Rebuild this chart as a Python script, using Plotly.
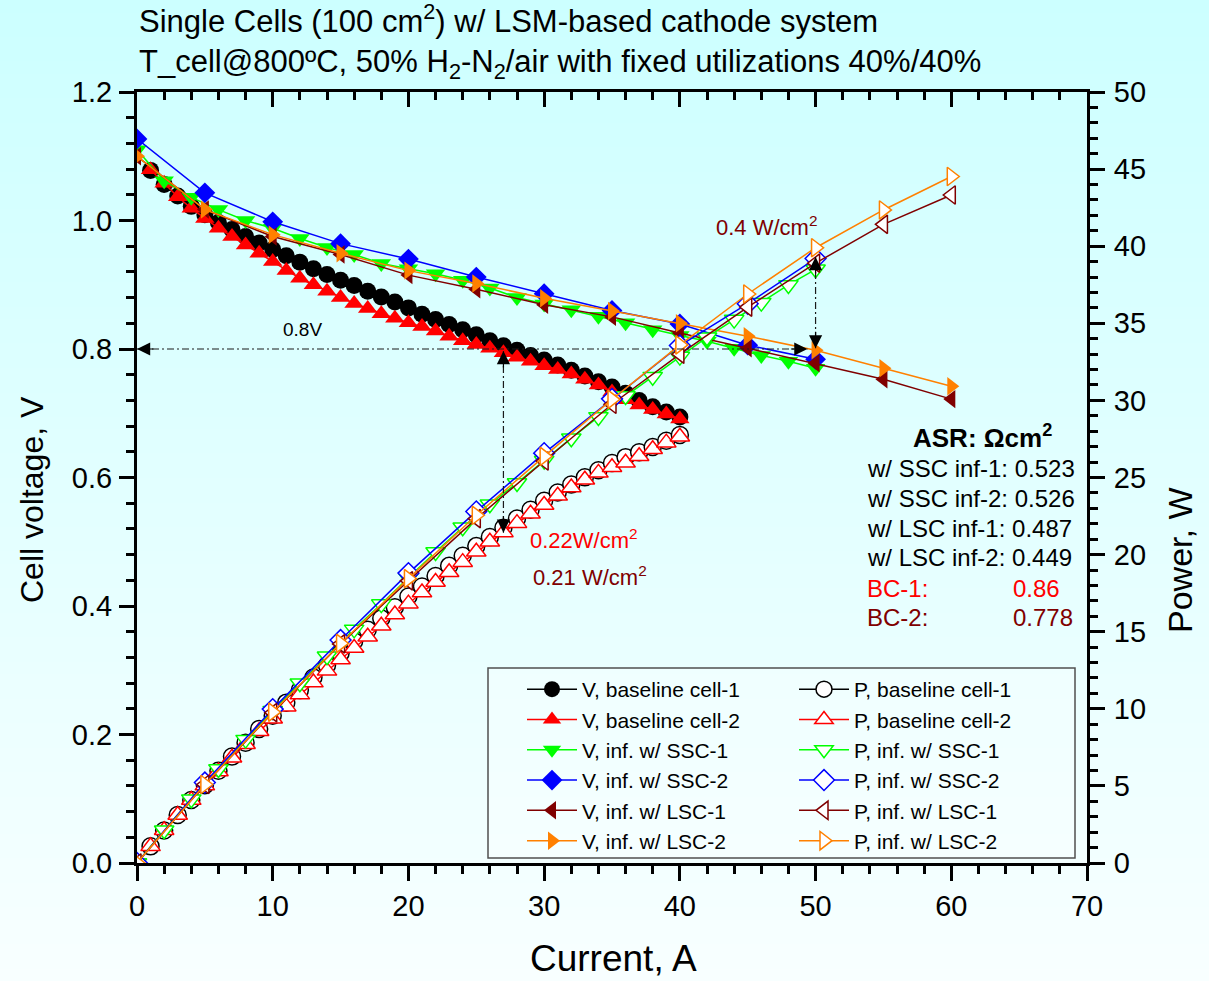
import plotly.graph_objects as go

# ---------------- data ----------------
# baseline cells: 1 A steps
I_base = list(range(1, 41))
V_base1 = [1.078, 1.056, 1.038, 1.022, 1.009, 0.997, 0.986, 0.975, 0.965, 0.955,
           0.945, 0.935, 0.925, 0.916, 0.907, 0.899, 0.890, 0.881, 0.873, 0.864,
           0.854, 0.846, 0.838, 0.830, 0.822, 0.813, 0.805, 0.798, 0.790, 0.783,
           0.775, 0.767, 0.758, 0.749, 0.741, 0.731, 0.720, 0.710, 0.702, 0.694]
P_base1 = [1.08, 2.11, 3.11, 4.09, 5.05, 5.98, 6.90, 7.80, 8.69, 9.55,
           10.40, 11.22, 12.03, 12.82, 13.61, 14.38, 15.13, 15.86, 16.59, 17.28,
           17.93, 18.61, 19.27, 19.92, 20.55, 21.14, 21.74, 22.34, 22.91, 23.49,
           24.03, 24.54, 25.01, 25.47, 25.94, 26.32, 26.64, 26.98, 27.38, 27.76]
V_base2 = [1.079, 1.058, 1.037, 1.019, 1.003, 0.988, 0.975, 0.962, 0.949, 0.936,
           0.922, 0.910, 0.900, 0.890, 0.880, 0.871, 0.863, 0.855, 0.848, 0.841,
           0.835, 0.828, 0.820, 0.813, 0.807, 0.801, 0.794, 0.787, 0.781, 0.774,
           0.768, 0.761, 0.753, 0.744, 0.733, 0.721, 0.713, 0.706, 0.699, 0.691]
P_base2 = [1.08, 2.12, 3.11, 4.08, 5.02, 5.93, 6.83, 7.70, 8.54, 9.36,
           10.14, 10.92, 11.70, 12.46, 13.20, 13.94, 14.67, 15.39, 16.11, 16.82,
           17.54, 18.22, 18.86, 19.51, 20.18, 20.83, 21.44, 22.04, 22.65, 23.22,
           23.81, 24.35, 24.85, 25.30, 25.66, 25.96, 26.38, 26.83, 27.26, 27.64]

# SSC-infiltrated cell 1: 2 A steps
I_ssc1 = [0, 2, 4, 6, 8, 10, 12, 14, 16, 18, 20, 22, 24, 26, 28, 30, 32, 34, 36, 38,
          40, 42, 44, 46, 48, 50]
V_ssc1 = [1.110, 1.062, 1.036, 1.017, 1.000, 0.988, 0.972, 0.958, 0.947, 0.933,
          0.925, 0.917, 0.907, 0.895, 0.880, 0.870, 0.861, 0.851, 0.841, 0.830,
          0.821, 0.812, 0.801, 0.790, 0.781, 0.770]
P_ssc1 = [0.0, 2.12, 4.14, 6.10, 8.00, 9.88, 11.66, 13.41, 15.15, 16.79,
          18.50, 20.17, 21.77, 23.27, 24.64, 26.10, 27.55, 28.93, 30.28, 31.54,
          32.84, 34.10, 35.24, 36.34, 37.49, 38.50]

# SSC-infiltrated cell 2: 5 A steps
I_ssc2 = [0, 5, 10, 15, 20, 25, 30, 35, 40, 45, 50]
V_ssc2 = [1.127, 1.043, 0.998, 0.964, 0.940, 0.912, 0.886, 0.860, 0.839, 0.806, 0.784]
P_ssc2 = [0.0, 5.22, 9.98, 14.46, 18.80, 22.80, 26.58, 30.10, 33.56, 36.27, 39.20]

# LSC-infiltrated cells: 5 A steps up to 60 A
I_lsc = [0, 5, 10, 15, 20, 25, 30, 35, 40, 45, 50, 55, 60]
V_lsc1 = [1.100, 1.017, 0.975, 0.947, 0.915, 0.893, 0.869, 0.850, 0.825, 0.801,
          0.778, 0.753, 0.722]
P_lsc1 = [0.0, 5.09, 9.75, 14.21, 18.30, 22.33, 26.07, 29.75, 33.00, 36.05,
          38.90, 41.42, 43.32]
V_lsc2 = [1.100, 1.017, 0.978, 0.949, 0.922, 0.902, 0.879, 0.859, 0.840, 0.820,
          0.798, 0.770, 0.742]
P_lsc2 = [0.0, 5.09, 9.78, 14.24, 18.44, 22.55, 26.37, 30.07, 33.60, 36.90,
          39.90, 42.35, 44.52]

series_names = ["baseline cell-1", "baseline cell-2", "inf. w/ SSC-1",
                "inf. w/ SSC-2", "inf. w/ LSC-1", "inf. w/ LSC-2"]

asr_labels = ["w/ SSC inf-1:", "w/ SSC inf-2:", "w/ LSC inf-1:", "w/ LSC inf-2:",
              "BC-1:", "BC-2:"]
asr_values = ["0.523", "0.526", "0.487", "0.449", "0.86", "0.778"]

# ---------------- styling ----------------
FONT = "Arial, Liberation Sans, sans-serif"
colors = ["#000000", "#FF0000", "#00FF00", "#0000FF", "#800000", "#FF8000"]
symbols = ["circle", "triangle-up", "triangle-down", "diamond", "triangle-left",
           "triangle-right"]
msizes = [17, 17, 17, 16, 16, 16]
asr_colors = ["black", "black", "black", "black", "#FF0000", "#800000"]

W, H = 1209, 981
ML, MR, MT, MB = 137, 122, 92, 118
PW, PH = W - ML - MR, H - MT - MB


def px_x(px):
    return (px - ML) / PW


def px_y(py):
    return (H - MB - py) / PH


volt = [(I_base, V_base1), (I_base, V_base2), (I_ssc1, V_ssc1), (I_ssc2, V_ssc2),
        (I_lsc, V_lsc1), (I_lsc, V_lsc2)]
power = [(I_base, P_base1), (I_base, P_base2), (I_ssc1, P_ssc1), (I_ssc2, P_ssc2),
         (I_lsc, P_lsc1), (I_lsc, P_lsc2)]

fig = go.Figure()

for k, (xs, ys) in enumerate(volt):
    fig.add_trace(go.Scatter(
        x=xs, y=ys, mode="lines+markers", name="V, " + series_names[k],
        line=dict(color=colors[k], width=1.5),
        marker=dict(symbol=symbols[k], size=msizes[k], color=colors[k],
                    line=dict(width=0)),
        legend="legend", xaxis="x", yaxis="y"))

for k, (xs, ys) in enumerate(power):
    fig.add_trace(go.Scatter(
        x=xs, y=ys, mode="lines+markers", name="P, " + series_names[k],
        line=dict(color=colors[k], width=1.5),
        marker=dict(symbol=symbols[k], size=msizes[k], color="white",
                    line=dict(width=1.5, color=colors[k])),
        legend="legend2", xaxis="x", yaxis="y2"))

# empty trace so the top mirror axis gets its own subplot
fig.add_trace(go.Scatter(x=[], y=[], xaxis="x2", yaxis="y", showlegend=False,
                         hoverinfo="skip"))

# ---------------- background gradient ----------------
shapes = []
N = 80
top_c, bot_c = (204, 255, 255), (248, 255, 255)
for i in range(N):
    t = (i + 0.5) / N
    c = tuple(round(top_c[j] + (bot_c[j] - top_c[j]) * t) for j in range(3))
    y0 = i * H / N
    y1 = (i + 1) * H / N + 1
    shapes.append(dict(type="rect", xref="paper", yref="paper",
                       x0=px_x(0), x1=px_x(W), y0=px_y(y1), y1=px_y(y0),
                       fillcolor="rgb(%d,%d,%d)" % c, line=dict(width=0),
                       layer="below"))

# guide lines (dash-dot)
dd = "7px,3px,2px,3px"
guide = dict(color="#1a1a1a", width=1.2, dash=dd)
shapes.append(dict(type="line", xref="x", yref="y", x0=0, x1=49.4, y0=0.8, y1=0.8,
                   line=guide))
shapes.append(dict(type="line", xref="x", yref="y", x0=27, x1=27, y0=0.797, y1=0.514,
                   line=guide))
shapes.append(dict(type="line", xref="x", yref="y", x0=50, x1=50, y0=0.943, y1=0.801,
                   line=guide))

# legend frame
shapes.append(dict(type="rect", xref="paper", yref="paper",
                   x0=px_x(488), x1=px_x(1075), y0=px_y(858), y1=px_y(668),
                   line=dict(color="#505050", width=1.5),
                   fillcolor="rgba(255,255,255,0.25)", layer="above"))

# ---------------- annotations ----------------
ann = []


def head(x, y, ax, ay):
    ann.append(dict(x=x, y=y, xref="x", yref="y", ax=ax, ay=ay, text="",
                    showarrow=True, arrowhead=2, arrowsize=2.2, arrowwidth=1.2,
                    arrowcolor="black"))


head(0, 0.8, 18, 0)
head(49.4, 0.8, -18, 0)
head(27, 0.797, 0, 18)
head(27, 0.514, 0, -18)
head(50, 0.943, 0, 18)
head(50, 0.801, 0, -18)


def label(x, y, text, size, color, xref="paper", yref="paper", xanchor="center",
          yanchor="middle", **kw):
    ann.append(dict(x=x, y=y, xref=xref, yref=yref, text=text, showarrow=False,
                    xanchor=xanchor, yanchor=yanchor,
                    font=dict(family=FONT, size=size, color=color), **kw))


label(12.16, 0.8296, "0.8V", 19, "black", xref="x", yref="y")
label(32.94, 21.0, "0.22W/cm<sup>2</sup>", 22, "#FF0000", xref="x", yref="y2")
label(33.38, 18.6, "0.21 W/cm<sup>2</sup>", 22, "#800000", xref="x", yref="y2")
label(46.35, 41.3, "0.4 W/cm<sup>2</sup>", 22, "#800000", xref="x", yref="y2")

# ASR block
label(px_x(982), px_y(436), "<b>ASR: Ωcm<sup>2</sup></b>", 26, "black")
row_y = [468, 498, 528, 557, 588, 617]
for k in range(6):
    if k < 4:
        label(px_x(865), px_y(row_y[k]), asr_labels[k] + " " + asr_values[k], 24,
              asr_colors[k], xanchor="left")
    else:
        label(px_x(865), px_y(row_y[k]), asr_labels[k], 24, asr_colors[k],
              xanchor="left")
        label(px_x(1011), px_y(row_y[k]), asr_values[k], 24, asr_colors[k],
              xanchor="left")

# title
ann.append(dict(x=0, y=px_y(-3), xref="paper", yref="paper", xanchor="left",
                yanchor="top", align="left", showarrow=False,
                text="Single Cells (100 cm<sup>2</sup>) w/ LSM-based cathode system<br>"
                     "T_cell@800ºC, 50% H<sub>2</sub>-N<sub>2</sub>/air with fixed "
                     "utilizations 40%/40%",
                font=dict(family=FONT, size=31, color="black")))

# axis titles
label(px_x(613), px_y(980), "Current, A", 37, "black", yanchor="bottom",
      borderpad=0)
label(px_x(32), px_y(500), "Cell voltage, V", 32, "black", textangle=-90)
label(px_x(1180), px_y(561), "Power, W", 34, "black", textangle=-90)

tickfont = dict(family=FONT, size=29, color="black")
axis_common = dict(showline=True, linewidth=3, linecolor="black", showgrid=False,
                   zeroline=False, tickwidth=2.5, tickcolor="black", ticklen=15,
                   tickfont=tickfont)

legend_common = dict(bgcolor="rgba(0,0,0,0)", borderwidth=0, xanchor="left",
                     yanchor="top", font=dict(family=FONT, size=21, color="black"),
                     itemwidth=50, traceorder="normal")

fig.update_layout(
    width=W, height=H, autosize=False,
    margin=dict(l=ML, r=MR, t=MT, b=MB, pad=0),
    paper_bgcolor="#E4FFFF", plot_bgcolor="rgba(0,0,0,0)",
    showlegend=True,
    xaxis=dict(range=[0, 70], dtick=10, ticks="outside",
               minor=dict(dtick=2, ticks="outside", ticklen=8, tickwidth=2.5,
                          tickcolor="black"),
               ticklabelstandoff=0, **axis_common),
    xaxis2=dict(range=[0, 70], dtick=10, ticks="inside", overlaying="x", side="top",
                anchor="y", showticklabels=False,
                minor=dict(dtick=2, ticks="inside", ticklen=8, tickwidth=2.5,
                           tickcolor="black"),
                **axis_common),
    yaxis=dict(range=[0, 1.2], dtick=0.2, tickformat=".1f", ticks="outside",
               minor=dict(dtick=0.04, ticks="outside", ticklen=8, tickwidth=2.5,
                          tickcolor="black"),
               ticklabelstandoff=1, **axis_common),
    yaxis2=dict(range=[0, 50], dtick=5, ticks="outside", overlaying="y", side="right",
                anchor="x",
                minor=dict(dtick=1, ticks="outside", ticklen=8, tickwidth=2.5,
                           tickcolor="black"),
                ticklabelstandoff=3, **axis_common),
    legend=dict(x=px_x(522), y=px_y(669), **legend_common),
    legend2=dict(x=px_x(794), y=px_y(669), **legend_common),
    shapes=shapes,
    annotations=ann,
)

fig.write_html("out.html")
